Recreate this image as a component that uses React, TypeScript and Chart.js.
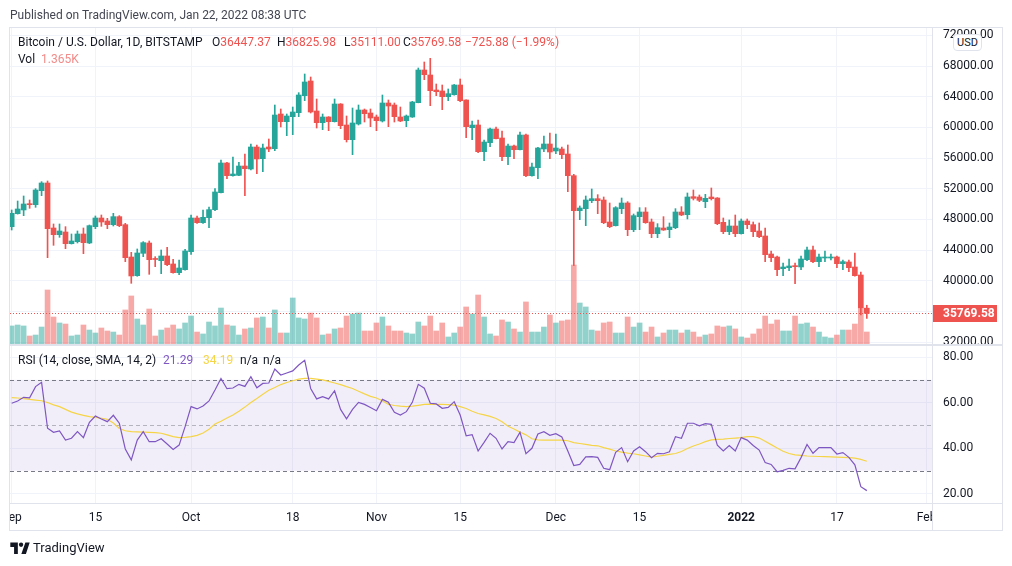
import React, { useEffect, useRef } from "react";
import { Chart, registerables } from "chart.js";

Chart.register(...registerables);

// ---------------- data ----------------
// daily candles, index 0 = 2021-09-01 ... index 143 = 2022-01-22
const OPEN = [
  47067, 48760, 49240, 50000, 49933, 51757, 52757, 46893, 46024, 46372,
  44852, 45113, 46111, 44939, 47067, 48196, 47806, 47328, 48370, 47328,
  43114, 40682, 43593, 44939, 42850, 42637, 43245, 42203, 41074, 41465,
  43810, 48196, 47588, 48240, 49283, 51497, 55363, 53712, 53755, 54971,
  54580, 57447, 55927, 57447, 57230, 61746, 60747, 61399, 61920, 64135,
  66046, 62137, 60617, 61356, 60747, 63049, 60313, 58402, 60444, 62268,
  61877, 61356, 60835, 63180, 62919, 61356, 60878, 61356, 63223, 67479,
  66828, 64873, 64743, 64005, 64265, 65525, 63571, 59966, 60313, 56839,
  58011, 59792, 58619, 56187, 57577, 57099, 59010, 53712, 54754, 57186,
  57838, 56926, 57186, 56535, 53712, 49152, 49412, 50454, 50714, 50541,
  47675, 47197, 49412, 50150, 46676, 48369, 48978, 47675, 46155, 46893,
  46676, 46937, 48978, 48630, 50975, 50932, 50324, 50932, 50802, 47632,
  46416, 47154, 46155, 47806, 47328, 46502, 45851, 43505, 43114, 41595,
  41725, 41942, 41812, 42768, 44026, 42507, 42985, 42985, 43114, 42246,
  42463, 41812, 40769, 36447.37,
];
const HIGH = [
  49240, 50410, 51063, 50542, 52018, 52930, 53017, 47415, 47415, 47067,
  46111, 46502, 46893, 47284, 48457, 48587, 48153, 48804, 48500, 47502,
  43724, 44158, 45113, 45200, 43158, 44026, 44375, 42811, 42724, 44114,
  48587, 48457, 49239, 49630, 52018, 55753, 55450, 56144, 55449, 56535,
  57838, 57708, 57838, 58489, 62919, 62398, 61746, 62658, 64526, 66958,
  66567, 63701, 61746, 61400, 63701, 63100, 61486, 62528, 62919, 62398,
  62398, 61616, 64222, 63571, 63180, 62658, 61616, 63400, 67740, 68521,
  69000, 65655, 65525, 65004, 65600, 66307, 63600, 60834, 60965, 58359,
  59922, 60053, 59532, 57838, 57708, 59401, 59141, 55363, 57404, 58880,
  59271, 59141, 57447, 57708, 53886, 49760, 51063, 51975, 51236, 50932,
  50150, 49673, 50802, 50324, 48717, 49543, 49543, 48066, 47458, 48370,
  47545, 49412, 49673, 51453, 51845, 51193, 51280, 52105, 50850, 48196,
  47936, 48587, 48066, 48066, 47675, 47545, 46893, 43897, 43245, 42333,
  42855, 42333, 43245, 44419, 44549, 43506, 43897, 43506, 43245, 42724,
  42724, 43637, 41161, 36825.98,
];
const LOW = [
  46630, 48700, 48500, 49456, 49587, 51106, 43027, 44635, 45678, 44200,
  44800, 44939, 43549, 44852, 46806, 47110, 46806, 47154, 47067, 42507,
  39684, 40600, 43158, 40856, 41856, 40943, 41986, 41000, 40813, 41400,
  43462, 47502, 47502, 46936, 49152, 51450, 53321, 53650, 53712, 51106,
  54450, 53972, 54233, 56839, 56969, 60053, 58923, 59054, 61399, 63484,
  61877, 59922, 59705, 59575, 60700, 59836, 58098, 56448, 60313, 60704,
  60096, 59575, 60704, 60096, 60704, 60747, 60096, 61300, 63200, 66220,
  62832, 64135, 62311, 63484, 64200, 63353, 58663, 58402, 56708, 55666,
  57490, 58489, 55666, 55145, 55927, 57050, 53582, 53650, 53321, 56839,
  55927, 56578, 55927, 51627, 42000, 47979, 47197, 50194, 48760, 47458,
  46937, 47150, 48760, 45894, 46416, 46676, 47500, 45634, 45634, 46580,
  45634, 46806, 48500, 48066, 50541, 50324, 49543, 50541, 47328, 46155,
  46024, 45764, 46100, 46806, 45764, 45634, 42507, 42507, 40682, 40682,
  41335, 39640, 41465, 42637, 42377, 41856, 42507, 42724, 41725, 41465,
  41205, 40600, 35558, 35111.0,
];
const CLOSE = [
  48804, 49369, 50020, 49930, 51845, 52757, 46806, 46024, 46502, 44852,
  45200, 46111, 44983, 47197, 48196, 47675, 47328, 48370, 47197, 43027,
  40639, 43637, 44982, 42768, 42790, 43245, 42116, 41074, 41682, 43897,
  48196, 47588, 48283, 49283, 51584, 55363, 53712, 53929, 54971, 54623,
  57447, 55884, 57317, 57186, 61616, 60747, 61486, 62007, 64222, 65916,
  62007, 60617, 61356, 60747, 63049, 60226, 58402, 60574, 62268, 61790,
  61225, 60878, 63180, 62789, 61399, 60835, 61486, 63310, 67479, 66871,
  64786, 64656, 64005, 64396, 65525, 63484, 60096, 60313, 56839, 58098,
  59792, 58532, 56187, 57577, 57099, 59010, 53712, 54841, 57317, 57838,
  56796, 57317, 56448, 53712, 49152, 49499, 50541, 50714, 50454, 47588,
  47067, 49543, 50150, 46676, 48500, 48978, 47588, 46155, 46937, 46632,
  47024, 48978, 48587, 50932, 50758, 50497, 50758, 50715, 47458, 46416,
  47154, 46155, 47806, 47328, 46416, 45764, 43419, 43027, 41465, 41812,
  41942, 41855, 42855, 44026, 42507, 43114, 43114, 43114, 42246, 42507,
  41725, 40682, 36495.46, 35769.58,
];
// volume in thousands of BTC
const VOLUME = [
  2.05, 2.16, 2.05, 0.91, 1.02, 1.93, 6.14, 3.07, 2.39, 2.27,
  0.91, 1.02, 2.16, 1.59, 1.25, 1.82, 1.48, 1.36, 1.02, 3.87,
  5.46, 2.84, 2.16, 3.98, 0.91, 1.59, 1.82, 2.16, 1.71, 2.39,
  3.18, 1.36, 1.14, 2.5, 2.05, 4.09, 2.16, 2.05, 1.02, 1.71,
  1.82, 2.96, 3.07, 1.82, 3.87, 1.25, 1.25, 5.23, 2.96, 2.84,
  3.52, 2.96, 1.02, 1.14, 1.71, 1.82, 3.18, 3.41, 3.52, 1.48,
  1.48, 2.39, 3.07, 2.05, 1.48, 1.48, 1.25, 1.14, 2.5, 2.05,
  3.18, 1.48, 2.39, 0.8, 1.25, 1.93, 4.21, 3.41, 5.57, 3.07,
  1.14, 0.91, 2.73, 2.5, 1.71, 1.36, 4.78, 1.36, 1.36, 1.93,
  3.3, 2.39, 2.62, 2.73, 8.98, 4.66, 4.21, 1.59, 1.48, 2.39,
  2.5, 1.25, 1.25, 3.07, 1.93, 2.39, 1.36, 1.93, 0.8, 1.25,
  1.59, 1.59, 1.25, 1.59, 1.36, 0.8, 1.02, 1.14, 2.05, 1.93,
  2.05, 1.71, 0.8, 0.68, 1.14, 1.71, 3.18, 2.27, 2.73, 1.48,
  1.48, 3.18, 2.27, 2.39, 1.93, 1.36, 0.8, 0.68, 1.02, 1.59,
  1.59, 2.27, 4.09, 1.365,
];
const RSI = [
  59.7, 60.7, 62.3, 62.1, 67.0, 68.9, 48.7, 46.9, 47.5, 43.5,
  44.3, 47.2, 44.6, 51.3, 54.1, 52.8, 51.6, 54.4, 50.9, 39.6,
  34.8, 43.5, 47.2, 42.8, 42.8, 44.1, 41.8, 39.4, 41.3, 49.4,
  58.2, 57.2, 58.5, 60.7, 65.5, 70.6, 66.1, 66.4, 68.0, 67.1,
  71.4, 66.5, 68.4, 68.6, 74.7, 72.1, 73.0, 73.9, 76.5, 78.6,
  66.2, 61.6, 62.6, 61.6, 65.2, 57.0, 52.8, 57.0, 60.1, 59.2,
  57.8, 56.4, 61.4, 60.1, 55.7, 54.5, 56.0, 60.1, 68.0, 66.3,
  59.7, 59.4, 57.5, 57.9, 60.4, 54.5, 45.4, 45.9, 38.7, 42.5,
  46.5, 44.3, 39.6, 42.8, 42.4, 46.9, 37.5, 39.9, 46.2, 47.2,
  45.6, 46.3, 44.9, 38.7, 32.3, 32.8, 36.1, 36.2, 35.9, 31.1,
  30.5, 38.1, 40.2, 34.0, 38.7, 40.6, 38.4, 35.8, 37.7, 37.5,
  38.4, 45.0, 44.3, 50.9, 50.9, 49.8, 50.7, 50.4, 41.3, 38.7,
  41.1, 38.7, 44.6, 43.5, 41.1, 39.1, 33.6, 32.8, 29.6, 30.2,
  31.1, 30.9, 35.8, 41.6, 37.7, 40.2, 40.2, 40.2, 37.4, 38.0,
  35.9, 32.6, 23.0, 21.29,
];
const RSI_MA = [
  62.2, 62.0, 61.7, 61.4, 61.1, 60.8, 60.0, 59.0, 58.2, 57.0,
  55.8, 55.0, 54.4, 53.8, 53.5, 53.1, 52.6, 51.0, 48.6, 47.6,
  47.2, 47.1, 47.0, 46.9, 46.8, 46.5, 45.8, 45.0, 44.6, 44.7,
  45.0, 45.6, 46.6, 48.3, 50.6, 51.8, 53.2, 54.5, 56.2, 58.0,
  60.0, 61.8, 63.7, 65.4, 66.6, 67.9, 68.8, 69.6, 70.3, 70.6,
  70.6, 70.3, 70.0, 69.3, 68.6, 67.9, 67.0, 66.2, 65.0, 63.8,
  62.7, 62.0, 60.8, 59.2, 58.7, 58.4, 58.2, 58.4, 58.8, 59.2,
  59.3, 59.2, 59.2, 59.1, 58.9, 58.2, 57.4, 56.2, 55.2, 54.6,
  53.9, 53.0, 51.6, 49.6, 48.4, 47.0, 45.8, 44.1, 43.6, 43.5,
  43.5, 43.5, 43.5, 43.2, 42.4, 42.0, 41.6, 41.2, 41.0, 40.2,
  39.5, 38.7, 38.2, 37.8, 37.5, 37.0, 36.5, 36.0, 36.4, 36.8,
  37.2, 37.6, 38.5, 39.8, 40.9, 41.8, 42.8, 43.6, 43.8, 43.9,
  44.2, 44.4, 44.6, 45.0, 45.0, 44.4, 43.0, 41.5, 40.0, 38.6,
  37.6, 37.0, 36.8, 36.5, 36.4, 36.3, 36.2, 36.1, 36.0, 35.9,
  35.8, 35.6, 35.0, 34.19,
];

const X_TICK_INDEX = [0, 14, 30, 47, 61, 75, 91, 105, 122, 138, 153];
const X_TICK_LABELS = ["Sep", "15", "Oct", "18", "Nov", "15", "Dec", "15", "2022", "17", "Feb"];
const BOLD_TICK_LABELS = ["2022"];
const PRICE_TICKS = [32000, 36000, 40000, 44000, 48000, 52000, 56000, 60000, 64000, 68000, 72000];
const RSI_TICKS = [20, 40, 60, 80];
const RSI_BAND = [30, 70];
const RSI_MID = [50];

// ---------------- styling / layout ----------------
const W = 1012;
const H = 566;
const FONT = "Roboto, 'Noto Sans', 'Liberation Sans', sans-serif";
const TEXT = "#131722";
const UP = "#26A69A";
const DOWN = "#EF5350";
const UP_VOL = "rgba(38,166,154,0.5)";
const DOWN_VOL = "rgba(239,83,80,0.5)";
const GRID = "#F0F3FA";
const FRAME = "#E0E3EB";
const RSI_COLOR = "#7E57C2";
const MA_COLOR = "#F5D547";

const PLOT_LEFT = 10;
const PLOT_RIGHT = 932;
const AXIS_W = 70;
const PRICE_TOP = 27;
const PRICE_BOTTOM = 344;
const RSI_TOP = 346;
const RSI_BOTTOM = 503;
const XAXIS_H = 27;
const X_MIN = -0.28;
const X_MAX = 153.9;
const PRICE_MIN = 31777;
const PRICE_MAX = 73082;
const VOL_MAX = 36.04;
const RSI_MIN = 15.85;
const RSI_MAX = 84.86;

const PAD_RIGHT = W - PLOT_RIGHT - AXIS_W;

const noScalePadding = (s: any) => {
  s.paddingLeft = 0;
  s.paddingRight = 0;
  s.paddingTop = 0;
  s.paddingBottom = 0;
};

const xScaleBase = {
  type: "linear" as const,
  min: X_MIN,
  max: X_MAX,
  offset: false,
  afterBuildTicks: (s: any) => {
    s.ticks = X_TICK_INDEX.map((v) => ({ value: v }));
  },
  grid: { color: GRID, drawTicks: false, offset: false, lineWidth: 1 },
  border: { display: false },
};

const lastPricePlugin = {
  id: "lastPrice",
  afterDatasetsDraw(chart: any) {
    const { ctx, chartArea, scales } = chart;
    const last = CLOSE.length - 1;
    const y = Math.round(scales.y.getPixelForValue(CLOSE[last])) + 0.5;
    const col = CLOSE[last] >= OPEN[last] ? UP : DOWN;
    ctx.save();
    ctx.strokeStyle = col;
    ctx.lineWidth = 1;
    ctx.setLineDash([1, 2]);
    ctx.beginPath();
    ctx.moveTo(chartArea.left, y);
    ctx.lineTo(chartArea.right, y);
    ctx.stroke();
    ctx.restore();
  },
  afterDraw(chart: any) {
    const { ctx, chartArea, scales } = chart;
    const last = CLOSE.length - 1;
    const y = scales.y.getPixelForValue(CLOSE[last]);
    const col = CLOSE[last] >= OPEN[last] ? UP : DOWN;
    ctx.save();
    ctx.fillStyle = col;
    ctx.fillRect(chartArea.right, Math.round(y) - 8, 65, 17);
    ctx.fillStyle = "#ffffff";
    ctx.font = `bold 12px ${FONT}`;
    ctx.textBaseline = "middle";
    ctx.textAlign = "left";
    ctx.fillText(CLOSE[last].toFixed(2), chartArea.right + 11, Math.round(y) + 0.5);
    ctx.restore();
  },
};

const rsiBandPlugin = {
  id: "rsiBand",
  beforeDatasetsDraw(chart: any) {
    const { ctx, chartArea, scales } = chart;
    const y = scales.y;
    const yHi = y.getPixelForValue(RSI_BAND[1]);
    const yLo = y.getPixelForValue(RSI_BAND[0]);
    ctx.save();
    ctx.fillStyle = "rgba(126,87,194,0.1)";
    ctx.fillRect(chartArea.left, yHi, chartArea.right - chartArea.left, yLo - yHi);
    ctx.lineWidth = 1;
    ctx.setLineDash([4, 3]);
    const line = (v: number, color: string) => {
      const py = Math.round(y.getPixelForValue(v)) + 0.5;
      ctx.strokeStyle = color;
      ctx.beginPath();
      ctx.moveTo(chartArea.left, py);
      ctx.lineTo(chartArea.right, py);
      ctx.stroke();
    };
    RSI_BAND.forEach((v) => line(v, "#787B86"));
    RSI_MID.forEach((v) => line(v, "rgba(120,123,134,0.5)"));
    ctx.restore();
  },
};

function PriceChart() {
  const ref = useRef<HTMLCanvasElement | null>(null);
  useEffect(() => {
    if (!ref.current) return;
    const idx = CLOSE.map((_, i) => i);
    const isUp = (i: number) => CLOSE[i] >= OPEN[i];
    const colors = idx.map((i) => (isUp(i) ? UP : DOWN));
    const chart = new Chart(ref.current, {
      type: "bar",
      data: {
        datasets: [
          {
            label: "body",
            data: idx.map((i) => ({ x: i, y: [OPEN[i], CLOSE[i]] })) as any,
            backgroundColor: colors,
            barThickness: 5,
            minBarLength: 1,
            grouped: false,
            yAxisID: "y",
            order: 0,
          } as any,
          {
            label: "wick",
            data: idx.map((i) => ({ x: i, y: [LOW[i], HIGH[i]] })) as any,
            backgroundColor: colors,
            barThickness: 1,
            grouped: false,
            yAxisID: "y",
            order: 1,
          } as any,
          {
            label: "volume",
            data: idx.map((i) => ({ x: i, y: VOLUME[i] })) as any,
            backgroundColor: idx.map((i) => (isUp(i) ? UP_VOL : DOWN_VOL)),
            barThickness: 5,
            grouped: false,
            yAxisID: "vol",
            order: 2,
          } as any,
        ],
      },
      options: {
        responsive: false,
        animation: false,
        devicePixelRatio: 1,
        events: [],
        layout: {
          padding: { left: PLOT_LEFT, top: PRICE_TOP, right: PAD_RIGHT, bottom: H - PRICE_BOTTOM },
        },
        plugins: { legend: { display: false }, tooltip: { enabled: false } },
        scales: {
          x: {
            ...xScaleBase,
            ticks: { display: false },
            afterFit: (s: any) => {
              s.height = 0;
              noScalePadding(s);
            },
          } as any,
          y: {
            type: "linear",
            position: "right",
            min: PRICE_MIN,
            max: PRICE_MAX,
            beginAtZero: false,
            afterBuildTicks: (s: any) => {
              s.ticks = PRICE_TICKS.map((v) => ({ value: v }));
            },
            ticks: {
              callback: (v: any) => Number(v).toFixed(2),
              color: TEXT,
              padding: 11,
              font: { family: FONT, size: 12 },
            },
            grid: { color: GRID, drawTicks: false },
            border: { display: false },
            afterFit: (s: any) => {
              s.width = AXIS_W;
              noScalePadding(s);
            },
          } as any,
          vol: {
            type: "linear",
            display: false,
            min: 0,
            max: VOL_MAX,
          } as any,
        },
      },
      plugins: [lastPricePlugin],
    });
    return () => chart.destroy();
  }, []);
  return (
    <canvas
      ref={ref}
      width={W}
      height={H}
      style={{ position: "absolute", left: 0, top: 0, width: W, height: H }}
    />
  );
}

function RsiChart() {
  const ref = useRef<HTMLCanvasElement | null>(null);
  useEffect(() => {
    if (!ref.current) return;
    const chart = new Chart(ref.current, {
      type: "line",
      data: {
        datasets: [
          {
            label: "RSI",
            data: RSI.map((v, i) => ({ x: i, y: v })),
            borderColor: RSI_COLOR,
            borderWidth: 1.2,
            pointRadius: 0,
            tension: 0,
            order: 0,
          },
          {
            label: "RSI-based MA",
            data: RSI_MA.map((v, i) => ({ x: i, y: v })),
            borderColor: MA_COLOR,
            borderWidth: 1.2,
            pointRadius: 0,
            tension: 0,
            order: 1,
          },
        ],
      },
      options: {
        responsive: false,
        animation: false,
        devicePixelRatio: 1,
        events: [],
        layout: {
          padding: { left: PLOT_LEFT, top: RSI_TOP, right: PAD_RIGHT, bottom: H - RSI_BOTTOM - XAXIS_H },
        },
        plugins: { legend: { display: false }, tooltip: { enabled: false } },
        scales: {
          x: {
            ...xScaleBase,
            ticks: {
              autoSkip: false,
              maxRotation: 0,
              minRotation: 0,
              padding: 8,
              color: TEXT,
              callback: (v: any) => {
                const k = X_TICK_INDEX.indexOf(Number(v));
                return k >= 0 ? X_TICK_LABELS[k] : "";
              },
              font: (c: any) => ({
                family: FONT,
                size: 12,
                weight: BOLD_TICK_LABELS.includes(X_TICK_LABELS[c.index]) ? "bold" : "normal",
              }),
            },
            afterFit: (s: any) => {
              s.height = XAXIS_H;
              noScalePadding(s);
            },
          } as any,
          y: {
            type: "linear",
            position: "right",
            min: RSI_MIN,
            max: RSI_MAX,
            afterBuildTicks: (s: any) => {
              s.ticks = RSI_TICKS.map((v) => ({ value: v }));
            },
            ticks: {
              callback: (v: any) => Number(v).toFixed(2),
              color: TEXT,
              padding: 11,
              font: { family: FONT, size: 12 },
            },
            grid: { color: GRID, drawTicks: false },
            border: { display: false },
            afterFit: (s: any) => {
              s.width = AXIS_W;
              noScalePadding(s);
            },
          } as any,
        },
      },
      plugins: [rsiBandPlugin],
    });
    return () => chart.destroy();
  }, []);
  return (
    <canvas
      ref={ref}
      width={W}
      height={H}
      style={{ position: "absolute", left: 0, top: 0, width: W, height: H }}
    />
  );
}

const abs = (left: number, top: number, extra: React.CSSProperties = {}): React.CSSProperties => ({
  position: "absolute",
  left,
  top,
  whiteSpace: "nowrap",
  lineHeight: "14px",
  fontSize: 12,
  color: TEXT,
  ...extra,
});

const box = (left: number, top: number, width: number, height: number, bg: string): React.CSSProperties => ({
  position: "absolute",
  left,
  top,
  width,
  height,
  background: bg,
});

export default function App() {
  const last = CLOSE.length - 1;
  const red = "#EF5350";
  const change = CLOSE[last] - CLOSE[last - 1];
  return (
    <div
      style={{
        position: "absolute",
        left: 0,
        top: 0,
        width: W,
        height: H,
        background: "#ffffff",
        overflow: "hidden",
        fontFamily: FONT,
      }}
    >
      <PriceChart />
      <RsiChart />

      {/* clipping covers */}
      <div style={box(0, RSI_BOTTOM + 1, PLOT_LEFT - 1, XAXIS_H - 1, "#fff")} />
      <div style={box(PLOT_RIGHT + 1, RSI_BOTTOM + 1, AXIS_W - 2, XAXIS_H - 1, "#fff")} />
      <div style={box(PLOT_RIGHT + 1, PRICE_BOTTOM + 2, AXIS_W - 2, 5, "#fff")} />

      {/* frame */}
      <div style={box(PLOT_LEFT - 1, PRICE_TOP, W - 2 * PLOT_LEFT + 2, 1, FRAME)} />
      <div style={box(PLOT_LEFT - 1, PRICE_TOP, 1, RSI_BOTTOM + XAXIS_H - PRICE_TOP + 1, FRAME)} />
      <div style={box(W - PLOT_LEFT, PRICE_TOP, 1, RSI_BOTTOM + XAXIS_H - PRICE_TOP + 1, FRAME)} />
      <div style={box(PLOT_LEFT - 1, RSI_BOTTOM + XAXIS_H, W - 2 * PLOT_LEFT + 2, 1, FRAME)} />
      <div style={box(PLOT_LEFT - 1, PRICE_BOTTOM, W - 2 * PLOT_LEFT + 2, 2, FRAME)} />
      <div style={box(PLOT_LEFT - 1, RSI_BOTTOM, W - 2 * PLOT_LEFT + 2, 1, FRAME)} />
      <div style={box(PLOT_RIGHT, PRICE_TOP, 1, RSI_BOTTOM + XAXIS_H - PRICE_TOP, FRAME)} />

      {/* header */}
      <div style={abs(10, 8, { color: "#434651" })}>Published on TradingView.com, Jan 22, 2022 08:38 UTC</div>

      {/* price legend */}
      <div style={abs(18, 35)}>Bitcoin / U.S. Dollar, 1D, BITSTAMP</div>
      <div style={abs(212, 35)}>
        O<span style={{ color: red }}>{OPEN[last].toFixed(2)}</span>
      </div>
      <div style={abs(277, 35)}>
        H<span style={{ color: red }}>{HIGH[last].toFixed(2)}</span>
      </div>
      <div style={abs(344, 35)}>
        L<span style={{ color: red }}>{LOW[last].toFixed(2)}</span>
      </div>
      <div style={abs(403, 35)}>
        C<span style={{ color: red }}>{CLOSE[last].toFixed(2)}</span>
      </div>
      <div style={abs(465, 35, { color: red })}>
        {"\u2212" + Math.abs(change).toFixed(2) + " (\u2212" + Math.abs((change / CLOSE[last - 1]) * 100).toFixed(2) + "%)"}
      </div>
      <div style={abs(18, 52)}>Vol</div>
      <div style={abs(41, 52, { color: "#F28B89" })}>{VOLUME[last].toFixed(3) + "K"}</div>

      {/* USD badge */}
      <div
        style={{
          position: "absolute",
          left: 953,
          top: 34,
          width: 27,
          height: 15,
          border: `1px solid ${FRAME}`,
          borderRadius: 4,
          background: "#fff",
          fontSize: 11,
          lineHeight: "15px",
          textAlign: "center",
          color: TEXT,
        }}
      >
        USD
      </div>

      {/* RSI legend */}
      <div style={abs(18, 353)}>RSI (14, close, SMA, 14, 2)</div>
      <div style={abs(163, 353, { color: RSI_COLOR })}>{RSI[last].toFixed(2)}</div>
      <div style={abs(203, 353, { color: MA_COLOR })}>{RSI_MA[last].toFixed(2)}</div>
      <div style={abs(240, 353)}>n/a</div>
      <div style={abs(263, 353)}>n/a</div>

      {/* footer logo */}
      <div style={{ position: "absolute", left: 10, top: 541, display: "flex", alignItems: "center" }}>
        <svg width="20" height="14" viewBox="0 0 36 26" style={{ display: "block" }}>
          <path d="M14 24H7V11H0V3h14v21zM29 24h-8.5L28 3h8L29 24z" fill={TEXT} />
          <circle cx="20" cy="7" r="4" fill={TEXT} />
        </svg>
        <span style={{ marginLeft: 3, fontSize: 13, color: TEXT, lineHeight: "14px" }}>TradingView</span>
      </div>
    </div>
  );
}
